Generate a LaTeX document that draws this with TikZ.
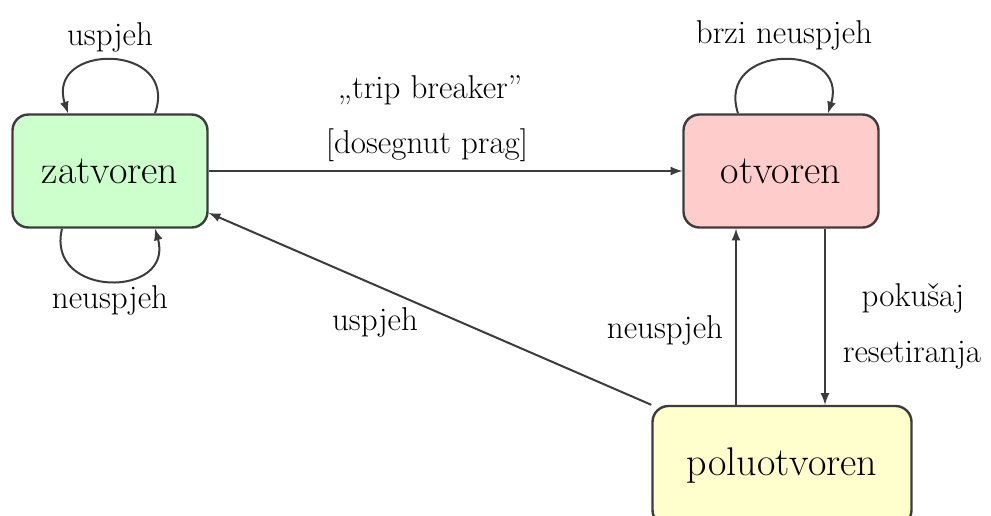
\documentclass[tikz,border=0pt]{standalone}
\usepackage{tikz}
\usetikzlibrary{arrows,shapes,positioning}
\definecolor{zatgreen}{RGB}{204,255,204}
\definecolor{otvpink}{RGB}{255,204,204}
\definecolor{poluyellow}{RGB}{255,255,206}
\definecolor{edgegray}{RGB}{60,60,60}
\begin{document}
\begin{tikzpicture}[x=0.5pt,y=-0.5pt,>=latex,
  state/.style={draw=edgegray,line width=1.2pt,rounded corners=8pt,
    minimum width=97.5pt,minimum height=56.5pt,font=\fontsize{20}{24}\selectfont},
  lbl/.style={font=\fontsize{16.5}{20}\selectfont},
  trans/.style={->,draw=edgegray,line width=1pt}]
\useasboundingbox (0,0) rectangle (991,515);

% the three states
\node[state,fill=zatgreen] (zat) at (110,171) {zatvoren};
\node[state,fill=otvpink] (otv) at (781,171) {otvoren};
\node[state,fill=poluyellow,minimum width=129.5pt,minimum height=60pt] (polu) at (782,466) {poluotvoren};

% loops
\draw[trans] ([shift={(45,0)}]zat.north) .. controls +(25,-71) and +(-23,-71) .. ([shift={(-42,0)}]zat.north);
\draw[trans] ([shift={(-48,0)}]zat.south) .. controls +(-17,70) and +(20,70) .. ([shift={(45,0)}]zat.south);
\draw[trans] ([shift={(-43,0)}]otv.north) .. controls +(-23,-71) and +(22,-71) .. ([shift={(47,0)}]otv.north);

% transitions between states
\draw[trans] (zat.east) -- (otv.west);
\draw[trans] (polu.north west) -- (zat.-23);
\draw[trans] ([shift={(-46,0)}]polu.north) -- ([shift={(-45,0)}]otv.south);
\draw[trans] ([shift={(44,0)}]otv.south) -- ([shift={(43,0)}]polu.north);

% labels
\node[lbl] (lblzatup) at (110,37) {uspjeh};
\node[lbl] (lblzatdown) at (110,300) {neuspjeh};
\node[lbl] (lblotvup) at (784,35) {brzi neuspjeh};
\node[lbl] (lbltrip) at (430,90) {„trip breaker”};
\node[lbl] (lblprag) at (427,145) {[dosegnut prag]};
\node[lbl] (lblback) at (375,322) {uspjeh};
\node[lbl] (lblfail) at (665,330) {neuspjeh};
\node[lbl] (lblreset) at (913,298) {pokušaj};
\node[lbl] (lblreset2) at (912,355) {resetiranja};
\end{tikzpicture}
\end{document}
